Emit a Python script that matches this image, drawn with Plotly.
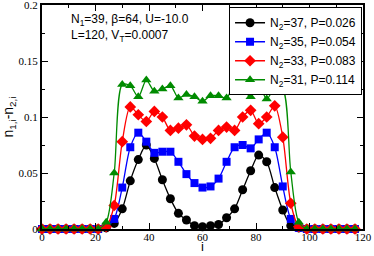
import plotly.graph_objects as go

sites = [0, 3, 6, 9, 12, 15, 18, 21, 24, 27, 30, 33, 36, 39, 42, 45, 48, 51, 54, 57,
         60, 63, 66, 69, 72, 75, 78, 81, 84, 87, 90, 93, 96, 99, 102, 105, 108, 111, 114, 117]

n2_37 = [0, 0, 0, 0, 0, 0, 0, 0, 0.001, 0.005, 0.018, 0.043, 0.062, 0.075, 0.063, 0.044,
         0.027, 0.014, 0.008, 0.003, 0.002, 0.003, 0.004, 0.010, 0.018, 0.035, 0.052, 0.066,
         0.060, 0.037, 0.017, 0.003, 0.001, 0, 0, 0, 0, 0, 0, 0]
n2_35 = [0, 0, 0, 0, 0, 0, 0, 0, 0.002, 0.009, 0.037, 0.073, 0.086, 0.078, 0.068, 0.069,
         0.069, 0.060, 0.049, 0.041, 0.037, 0.038, 0.045, 0.060, 0.073, 0.075, 0.072, 0.080,
         0.086, 0.073, 0.038, 0.009, 0.001, 0, 0, 0, 0, 0, 0, 0]
n2_33 = [0, 0, 0, 0, 0, 0, 0, 0, 0.002, 0.021, 0.078, 0.109, 0.102, 0.096, 0.105, 0.100,
         0.088, 0.090, 0.093, 0.083, 0.080, 0.081, 0.088, 0.091, 0.088, 0.100, 0.106, 0.094,
         0.100, 0.110, 0.082, 0.023, 0.002, 0, 0, 0, 0, 0, 0, 0]
n2_31 = [0, 0, 0, 0, 0, 0, 0, 0, 0.006, 0.050, 0.129, 0.128, 0.118, 0.133, 0.123, 0.125,
         0.128, 0.117, 0.120, 0.118, 0.114, 0.119, 0.119, 0.117, 0.129, 0.125, 0.118, 0.129,
         0.116, 0.126, 0.125, 0.051, 0.006, 0, 0, 0, 0, 0, 0, 0]

labels = ["N<sub>2</sub>=37, P=0.026", "N<sub>2</sub>=35, P=0.054",
          "N<sub>2</sub>=33, P=0.083", "N<sub>2</sub>=31, P=0.114"]
series = [n2_37, n2_35, n2_33, n2_31]
colors = ["#000000", "#0000ff", "#ff0000", "#008b00"]
symbols = ["circle", "square", "diamond", "triangle-up"]
sizes = [9, 8, 9, 9]

SANS = "Liberation Sans, Arial, sans-serif"
SERIF = "Liberation Serif, Times New Roman, serif"

fig = go.Figure()
for lab, ys, c, s, sz in zip(labels, series, colors, symbols, sizes):
    fig.add_trace(go.Scatter(
        x=sites, y=ys, name=lab, mode="lines+markers",
        line=dict(color=c, width=1.3, shape="spline", smoothing=0.8),
        marker=dict(color=c, symbol=s, size=sz, line=dict(width=0)),
        cliponaxis=False,
    ))

tickfont = dict(family=SERIF, size=11, color="black")
fig.update_layout(
    width=374, height=256,
    margin=dict(l=42, r=11, t=5, b=27, autoexpand=False),
    plot_bgcolor="white", paper_bgcolor="white",
    showlegend=True,
    legend=dict(x=0.997, y=0.99, xanchor="right", yanchor="top",
                bgcolor="white", bordercolor="black", borderwidth=1,
                font=dict(family=SANS, size=12, color="black"),
                tracegroupgap=0, itemwidth=30),
    font=dict(family=SANS, color="black"),
)
fig.update_xaxes(
    range=[0, 120], dtick=20, tick0=0, ticks="inside", ticklen=6, tickwidth=1,
    tickcolor="black", showline=True, linecolor="black", linewidth=2, mirror="allticks",
    showgrid=False, zeroline=False, tickfont=tickfont, automargin=False,
    ticklabeloverflow="allow", ticklabelstandoff=-3,
    minor=dict(dtick=10, ticks="inside", ticklen=3, tickcolor="black", showgrid=False),
)
fig.update_yaxes(
    range=[0, 0.2], dtick=0.05, tick0=0, ticks="inside", ticklen=6, tickwidth=1,
    tickcolor="black", showline=True, linecolor="black", linewidth=2, mirror="allticks",
    showgrid=False, zeroline=False, tickfont=tickfont, automargin=False,
    ticklabeloverflow="allow",
    minor=dict(dtick=0.025, ticks="inside", ticklen=3, tickcolor="black", showgrid=False),
    title=dict(text="n<sub>1,i</sub>-n<sub>2,i</sub>", font=dict(size=14)),
    tickformat="~g",
)
fig.add_annotation(x=0.5, y=-0.1205, xref="paper", yref="paper", xanchor="center", yanchor="bottom",
                   text="i", showarrow=False, font=dict(size=13, family=SANS))
fig.add_annotation(x=0.084, y=0.933, xref="paper", yref="paper", xanchor="left", yanchor="middle",
                   text="N<sub>1</sub>=39, β=64, U=-10.0", showarrow=False,
                   font=dict(size=12, family=SANS))
fig.add_annotation(x=0.084, y=0.862, xref="paper", yref="paper", xanchor="left", yanchor="middle",
                   text="L=120, V<sub>T</sub>=0.0007", showarrow=False,
                   font=dict(size=12, family=SANS))

fig.write_html("out.html", config={"displayModeBar": False},
               post_script="document.body.style.margin='0px';document.documentElement.style.overflow='hidden';")
